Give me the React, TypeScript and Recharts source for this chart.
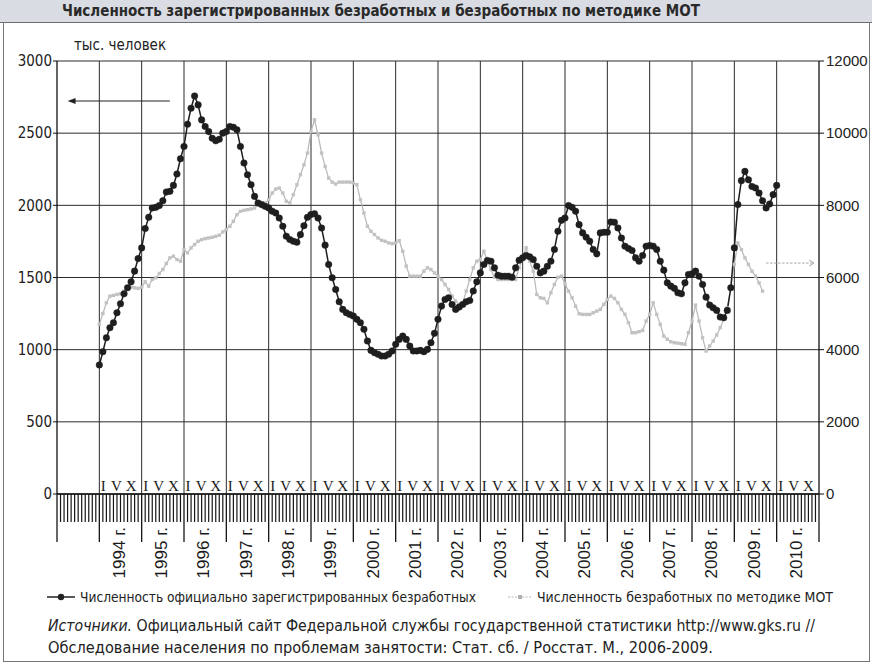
import React from 'react';
import { ComposedChart, Line, XAxis, YAxis, CartesianGrid, ReferenceLine } from 'recharts';

const NARROW = "'Liberation Sans Narrow', 'DejaVu Sans Condensed', 'Liberation Sans', Arial, sans-serif";
const SANS = "'Liberation Sans', Arial, sans-serif";
const SERIF = "'Liberation Serif', 'Times New Roman', serif";

// месяцы считаются от января 1993 г. (индекс 0), первый месяц данных — январь 1994 г.
const FIRST_MONTH = 12;
const LAST_MONTH = 216;

const YEAR_LABELS = [
  '1994 г.', '1995 г.', '1996 г.', '1997 г.', '1998 г.', '1999 г.', '2000 г.', '2001 г.', '2002 г.',
  '2003 г.', '2004 г.', '2005 г.', '2006 г.', '2007 г.', '2008 г.', '2009 г.', '2010 г.',
];
const ROMAN: Record<number, string> = { 0: 'I', 4: 'V', 9: 'X' };
const ROMAN_SHIFT: Record<number, number> = { 0: 4, 4: 3, 9: 0 };
const LEFT_TICKS = [0, 500, 1000, 1500, 2000, 2500, 3000];
const RIGHT_TICKS = [0, 2000, 4000, 6000, 8000, 10000, 12000];

// Численность официально зарегистрированных безработных, тыс. чел. (янв. 1994 – янв. 2010)
const REGISTERED = [
  894, 986, 1083, 1152, 1187, 1256, 1318, 1387, 1429, 1470, 1544, 1631, // 1994
  1705, 1839, 1917, 1982, 1986, 1998, 2032, 2092, 2097, 2138, 2217, 2323, // 1995
  2408, 2562, 2673, 2758, 2696, 2592, 2546, 2511, 2465, 2447, 2458, 2500, // 1996
  2511, 2546, 2541, 2523, 2408, 2293, 2212, 2143, 2062, 2016, 2005, 1993, // 1997
  1982, 1959, 1947, 1912, 1855, 1786, 1763, 1751, 1744, 1797, 1859, 1917, // 1998
  1936, 1942, 1912, 1843, 1724, 1590, 1498, 1417, 1332, 1279, 1256, 1244, // 1999
  1233, 1210, 1187, 1141, 1060, 995, 979, 968, 956, 956, 968, 991, // 2000
  1037, 1071, 1094, 1071, 1025, 991, 991, 995, 986, 1002, 1048, 1113, // 2001
  1210, 1302, 1348, 1360, 1313, 1279, 1295, 1313, 1332, 1341, 1406, 1470, // 2002
  1532, 1590, 1618, 1613, 1567, 1516, 1509, 1509, 1509, 1502, 1567, 1620, // 2003
  1636, 1652, 1643, 1624, 1578, 1532, 1544, 1578, 1613, 1694, 1820, 1896, // 2004
  1912, 1998, 1986, 1959, 1866, 1809, 1779, 1751, 1694, 1664, 1809, 1813, // 2005
  1813, 1885, 1882, 1843, 1774, 1717, 1701, 1687, 1636, 1613, 1652, 1717, // 2006
  1722, 1717, 1694, 1613, 1551, 1463, 1440, 1425, 1394, 1387, 1463, 1521, // 2007
  1525, 1544, 1509, 1452, 1364, 1309, 1290, 1272, 1226, 1221, 1272, 1429, // 2008
  1705, 2005, 2171, 2235, 2177, 2131, 2120, 2085, 2032, 1982, 2009, 2074, // 2009
  2138, // 2010
];

// Численность безработных по методике МОТ, тыс. чел. (янв. 1994 – сент. 2009), правая шкала
const ILO = [
  4701, 5000, 5300, 5484, 5503, 5530, 5549, 5622, 5696, 5733, 5714, 5700, // 1994
  5733, 5880, 5760, 5945, 5991, 6111, 6221, 6387, 6544, 6590, 6498, 6452, // 1995
  6774, 6682, 6820, 6913, 7005, 7051, 7078, 7097, 7115, 7143, 7171, 7263, // 1996
  7327, 7419, 7558, 7740, 7834, 7862, 7880, 7899, 7926, 8019, 8037, 8065, // 1997
  8157, 8341, 8452, 8479, 8341, 8111, 8065, 8295, 8571, 8848, 9124, 9447, // 1998
  10046, 10369, 9954, 9447, 9078, 8756, 8645, 8590, 8645, 8645, 8645, 8645, // 1999
  8618, 8571, 8157, 7788, 7420, 7281, 7189, 7097, 7032, 7005, 6959, 6940, // 2000
  6960, 7020, 6728, 6314, 6037, 6037, 6037, 6037, 6175, 6268, 6221, 6129, // 2001
  6037, 5945, 5807, 5668, 5484, 5346, 5254, 5300, 5622, 5945, 6268, 6452, // 2002
  6498, 6728, 6452, 6221, 6009, 5945, 5945, 5945, 5945, 5945, 5945, 6268, // 2003
  6544, 6820, 6452, 6175, 5530, 5438, 5420, 5300, 5576, 5807, 6009, 6037, // 2004
  5825, 5622, 5438, 5207, 4996, 4977, 4977, 4977, 5023, 5069, 5115, 5254, // 2005
  5392, 5484, 5420, 5300, 5115, 4977, 4747, 4470, 4470, 4498, 4535, 4793, // 2006
  4977, 5300, 4977, 4701, 4378, 4286, 4221, 4194, 4180, 4166, 4148, 4470, // 2007
  4793, 5235, 4793, 4332, 3963, 4102, 4240, 4406, 4609, 4839, 5162, 5715, // 2008
  6360, 6959, 6774, 6544, 6360, 6175, 6037, 5853, 5622, // 2009
];

const MONTH_TICKS = Array.from({ length: LAST_MONTH + 1 }, (_, i) => i);
const YEAR_BOUNDS = MONTH_TICKS.filter((m) => m % 12 === 0 && m > 0 && m < LAST_MONTH);

const chartData = MONTH_TICKS.map((i) => {
  const k = i - FIRST_MONTH;
  return {
    i,
    reg: k >= 0 && k < REGISTERED.length ? REGISTERED[k] : null,
    ilo: k >= 0 && k < ILO.length ? ILO[k] : null,
  };
});

// штрихи месяцев, границы лет, римские цифры и подписи годов под осью
function MonthTick(props: any) {
  const { x, y, payload } = props;
  const v = payload.value as number;
  const m = v % 12;
  const yearIdx = Math.floor(v / 12) - 1;
  const inYears = yearIdx >= 0 && yearIdx < YEAR_LABELS.length;
  return (
    <g>
      <line x1={x} x2={x} y1={y} y2={y + (m === 0 ? 48 : 28)} stroke="#151515" strokeWidth={m === 0 ? 1.3 : 1.2} />
      {inYears && ROMAN[m] && (
        <text x={x + ROMAN_SHIFT[m]} y={y - 3} textAnchor="middle" fontFamily={SERIF} fontSize={15} fill="#1a1a1a">
          {ROMAN[m]}
        </text>
      )}
      {inYears && m === 6 && (
        <text
          x={x - 2}
          y={y + 33}
          dy="0.36em"
          transform={`rotate(-90 ${x - 2} ${y + 33})`}
          textAnchor="end"
          fontFamily={SANS}
          fontSize={17}
          fill="#1a1a1a"
        >
          {YEAR_LABELS[yearIdx]}
        </text>
      )}
    </g>
  );
}

function GrayMark(props: any) {
  const { cx, cy, value, index } = props;
  if (value == null || cx == null || cy == null) return <g key={`g${index}`} />;
  return <rect key={`g${index}`} x={cx - 1.7} y={cy - 1.7} width={3.4} height={3.4} fill="#c2c2c2" />;
}

function LeftArrow(p: any) {
  const { x1, y1, x2, y2 } = p;
  return (
    <g>
      <line x1={x1} y1={y1} x2={x2 + 6} y2={y2} stroke="#222" strokeWidth={1.1} />
      <polygon points={`${x2},${y2} ${x2 + 8},${y2 - 3} ${x2 + 8},${y2 + 3}`} fill="#222" />
    </g>
  );
}

function RightArrow(p: any) {
  const { x1, y1, x2, y2 } = p;
  return (
    <g stroke="#a8a8a8" strokeWidth={1} fill="none">
      <line x1={x1} y1={y1} x2={x2} y2={y2} strokeDasharray="2.5 1.5" />
      <polyline points={`${x2 - 5},${y2 - 3} ${x2},${y2} ${x2 - 5},${y2 + 3}`} />
    </g>
  );
}

export default function App() {
  return (
    <div style={{ position: 'absolute', left: 0, top: 0, width: 872, height: 669, background: '#fff', overflow: 'hidden' }}>
      {/* шапка с заголовком */}
      <div style={{ position: 'absolute', left: 0, top: 0, width: 872, height: 22, background: '#d9dce3', borderBottom: '1.5px solid #6b6e73' }}>
        <div
          style={{
            position: 'absolute', left: 62, top: 3, whiteSpace: 'nowrap', fontFamily: NARROW,
            fontWeight: 700, fontSize: 15, lineHeight: '16px', color: '#2a2a2a',
          }}
        >
          Численность зарегистрированных безработных и безработных по методике МОТ
        </div>
      </div>
      <div style={{ position: 'absolute', left: 3, top: 22, width: 865, height: 639, borderLeft: '1.5px solid #777', borderRight: '1.5px solid #777', borderBottom: '1.5px solid #777' }} />

      <ComposedChart
        width={872}
        height={669}
        data={chartData}
        margin={{ top: 61, right: 0, bottom: 0, left: 0 }}
        style={{ position: 'absolute', left: 0, top: 0 }}
      >
        <CartesianGrid yAxisId="left" vertical={false} stroke="#2b2b2b" strokeWidth={1} />
        {YEAR_BOUNDS.map((v) => (
          <ReferenceLine key={v} x={v} yAxisId="left" stroke="#2b2b2b" strokeWidth={1} />
        ))}
        <XAxis
          dataKey="i"
          type="number"
          domain={[0, LAST_MONTH]}
          ticks={MONTH_TICKS}
          interval={0}
          tick={(p: any) => <MonthTick {...p} />}
          tickLine={false}
          tickSize={0}
          tickMargin={0}
          height={175}
          axisLine={{ stroke: '#111', strokeWidth: 1.6 }}
        />
        <YAxis
          yAxisId="left"
          domain={[0, 3000]}
          ticks={LEFT_TICKS}
          width={57}
          tickSize={4}
          tickMargin={1}
          axisLine={{ stroke: '#111', strokeWidth: 1.3 }}
          tickLine={{ stroke: '#111' }}
          tick={{ fontSize: 15, fill: '#222', fontFamily: NARROW }}
        />
        <YAxis
          yAxisId="right"
          orientation="right"
          domain={[0, 12000]}
          ticks={RIGHT_TICKS}
          width={53}
          tickSize={5}
          tickMargin={2}
          axisLine={{ stroke: '#111', strokeWidth: 1.3 }}
          tickLine={{ stroke: '#111' }}
          tick={{ fontSize: 15, fill: '#222', fontFamily: SANS }}
        />
        <Line
          yAxisId="right"
          dataKey="ilo"
          stroke="#b7b7b7"
          strokeWidth={1.2}
          dot={(p: any) => <GrayMark {...p} />}
          activeDot={false}
          isAnimationActive={false}
        />
        <Line
          yAxisId="left"
          dataKey="reg"
          stroke="#1e1e1e"
          strokeWidth={1.5}
          dot={{ r: 3.3, fill: '#1e1e1e', stroke: '#1e1e1e', strokeWidth: 0.4 }}
          activeDot={false}
          isAnimationActive={false}
        />
        <ReferenceLine yAxisId="left" segment={[{ x: 32, y: 2723 }, { x: 3, y: 2723 }]} shape={(p: any) => <LeftArrow {...p} />} />
        <ReferenceLine yAxisId="right" segment={[{ x: 201, y: 6400 }, { x: 214.6, y: 6400 }]} shape={(p: any) => <RightArrow {...p} />} />
      </ComposedChart>

      <svg width={872} height={669} style={{ position: 'absolute', left: 0, top: 0, pointerEvents: 'none' }}>
        <text x={74} y={50} fontFamily={NARROW} fontSize={15} fill="#222">тыс. человек</text>

        <line x1={47} x2={75} y1={597} y2={597} stroke="#222" strokeWidth={1.5} />
        <circle cx={61} cy={597} r={3.2} fill="#222" />
        <text x={80} y={602} fontFamily={NARROW} fontSize={14} fill="#222" textLength={396} lengthAdjust="spacingAndGlyphs">
          Численность официально зарегистрированных безработных
        </text>
        <line x1={508} x2={532} y1={597} y2={597} stroke="#b7b7b7" strokeWidth={1.2} strokeDasharray="2 1.5" />
        <rect x={518} y={595} width={4} height={4} fill="#b0b0b0" />
        <text x={537} y={602} fontFamily={NARROW} fontSize={14} fill="#222" textLength={296} lengthAdjust="spacingAndGlyphs">
          Численность безработных по методике МОТ
        </text>

        <text x={48} y={631} fontFamily={NARROW} fontSize={15.5} fill="#222" textLength={767} lengthAdjust="spacingAndGlyphs">
          <tspan fontStyle="italic">Источники.</tspan> Официальный сайт Федеральной службы государственной статистики http://www.gks.ru //
        </text>
        <text x={48} y={653} fontFamily={NARROW} fontSize={15.5} fill="#222" textLength={665} lengthAdjust="spacingAndGlyphs">
          Обследование населения по проблемам занятости: Стат. сб. / Росстат. М., 2006-2009.
        </text>
      </svg>
    </div>
  );
}
